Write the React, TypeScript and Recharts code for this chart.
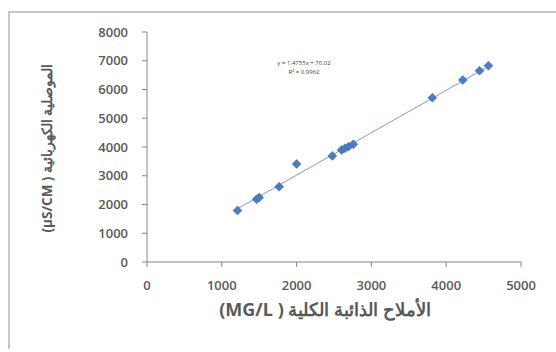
import React from 'react';
import {
  ComposedChart,
  Scatter,
  Line,
  XAxis,
  YAxis,
  Label,
} from 'recharts';

// total dissolved solids (mg/L) vs electrical conductivity (µS/cm)
const tds = [1210, 1465, 1500, 1767, 2000, 2477, 2602, 2647, 2691, 2758, 3815, 4222, 4445, 4565];
const ec = [1790, 2180, 2240, 2620, 3410, 3690, 3900, 3955, 4010, 4095, 5715, 6330, 6655, 6830];

const xTicks = [0, 1000, 2000, 3000, 4000, 5000];
const yTicks = [0, 1000, 2000, 3000, 4000, 5000, 6000, 7000, 8000];

const slope = 1.4755;
const intercept = 70.02;
const trendX = [1210, 4565];

const xTitle = 'الأملاح الذائبة الكلية ( MG/L)';
const yTitle = 'الموصلية الكهربائية ( µS/CM)';

const points = tds.map((x, i) => ({ x, y: ec[i] }));
const trend = trendX.map((x) => ({ x, y: slope * x + intercept }));

const tickStyle = { fill: '#595959', fontSize: 13, fontFamily: 'Open Sans', fontWeight: 600 };

const Diamond = (props: any) => {
  const { cx, cy } = props;
  if (cx == null || cy == null) return null;
  const r = 4.5;
  return (
    <path
      d={`M${cx},${cy - r} L${cx + r},${cy} L${cx},${cy + r} L${cx - r},${cy} Z`}
      fill="#4a7ebb"
      stroke="#3b6aa5"
      strokeWidth={0.5}
    />
  );
};

export default function App() {
  return (
    <div style={{ position: 'absolute', left: 0, top: 0, width: 556, height: 352, background: '#fff' }}>
      <div
        style={{
          position: 'absolute',
          left: 8,
          top: 11,
          width: 560,
          height: 338,
          borderTop: '2px solid #c8c8c8',
          borderLeft: '2px solid #c8c8c8',
          boxSizing: 'border-box',
        }}
      />
      <ComposedChart
        width={556}
        height={352}
        margin={{ top: 32, right: 35, bottom: 0, left: 0 }}
        style={{ position: 'absolute', left: 0, top: 0 }}
      >
        <XAxis
          type="number"
          dataKey="x"
          domain={[0, 5000]}
          ticks={xTicks}
          height={90}
          tick={tickStyle}
          tickSize={5}
          tickMargin={14}
          axisLine={{ stroke: '#868686' }}
          tickLine={{ stroke: '#868686' }}
          allowDuplicatedCategory={false}
        >
          <Label
            content={() => (
              <text
                x={325}
                y={316}
                textAnchor="middle"
                direction="rtl"
                fill="#595959"
                fontSize={18}
                fontWeight={700}
                fontFamily="Open Sans, Noto Sans"
              >
                {xTitle}
              </text>
            )}
          />
        </XAxis>
        <YAxis
          type="number"
          dataKey="y"
          domain={[0, 8000]}
          ticks={yTicks}
          width={147}
          tick={tickStyle}
          tickSize={5}
          tickMargin={14}
          axisLine={{ stroke: '#868686' }}
          tickLine={{ stroke: '#868686' }}
        >
          <Label
            content={() => (
              <text
                x={48}
                y={148}
                transform="rotate(-90 48 148)"
                textAnchor="middle"
                direction="rtl"
                dominantBaseline="middle"
                fill="#595959"
                fontSize={13.5}
                fontWeight={700}
                fontFamily="Open Sans, Noto Sans"
              >
                {yTitle}
              </text>
            )}
          />
        </YAxis>
        <Line
          data={trend}
          dataKey="y"
          type="linear"
          stroke="#7f9cc8"
          strokeWidth={1}
          dot={false}
          activeDot={false}
          isAnimationActive={false}
        />
        <Scatter data={points} dataKey="y" shape={<Diamond />} isAnimationActive={false} />
        <text x={304} y={65} textAnchor="middle" fontSize={6} fill="#404040" fontFamily="Open Sans">
          y = 1.4755x + 70.02
        </text>
        <text x={304} y={74} textAnchor="middle" fontSize={6} fill="#404040" fontFamily="Open Sans">
          R² = 0.9962
        </text>
      </ComposedChart>
    </div>
  );
}
